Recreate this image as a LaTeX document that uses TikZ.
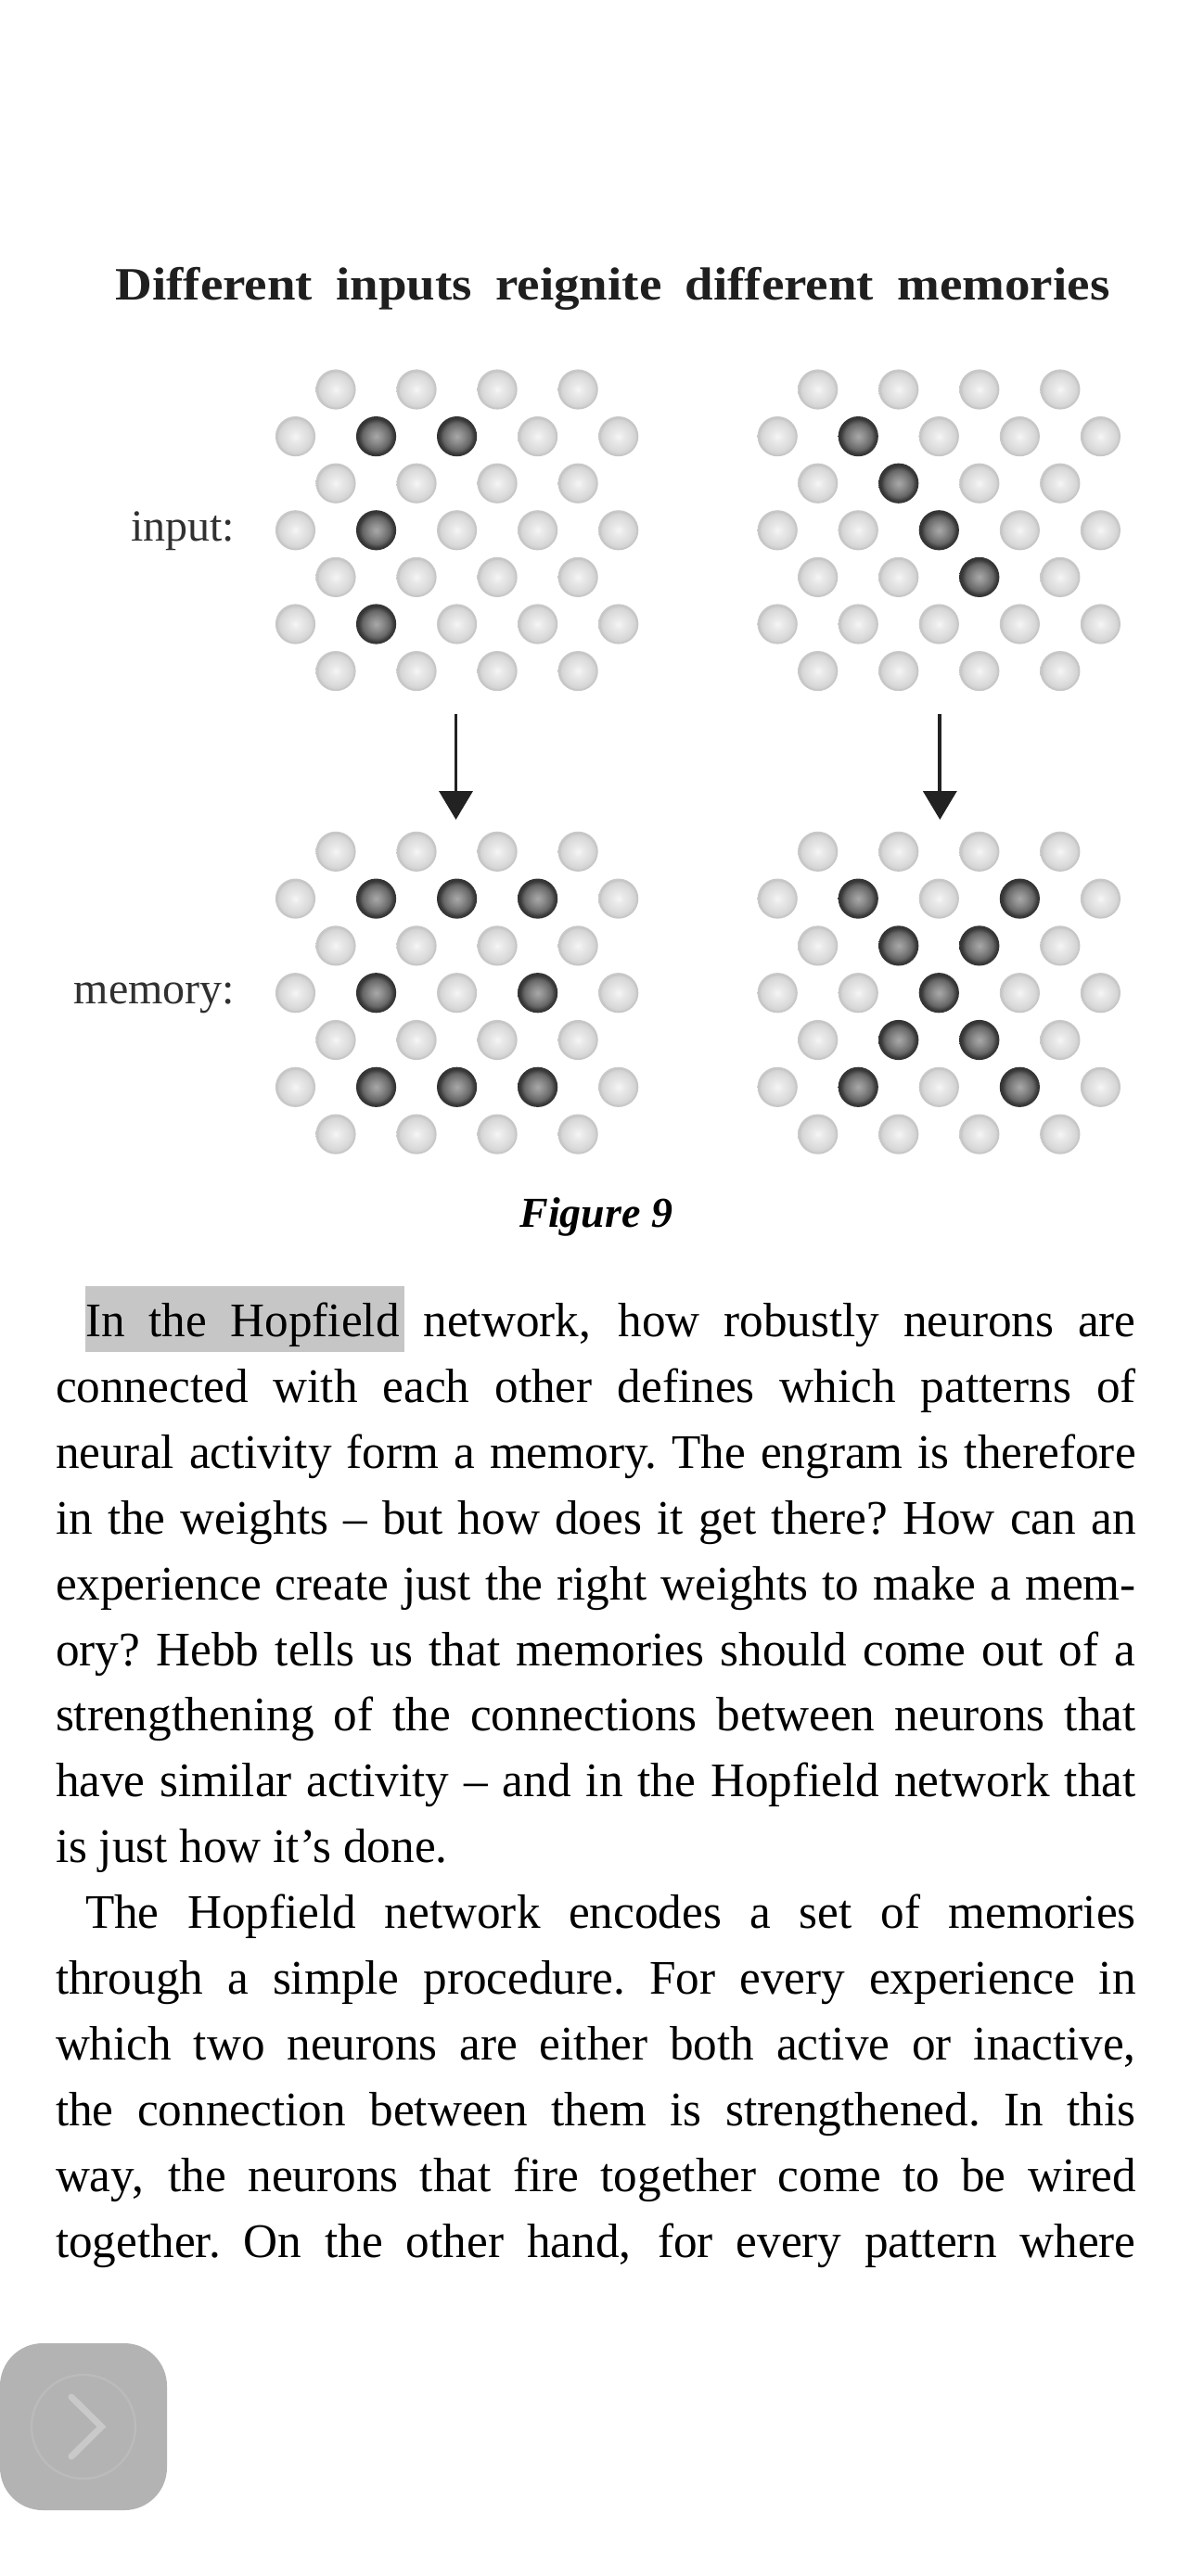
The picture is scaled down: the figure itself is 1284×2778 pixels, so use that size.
\documentclass[tikz,border=0pt]{standalone}
\usepackage{fontspec}
\usetikzlibrary{arrows.meta}
\setmainfont{Liberation Serif}
\newfontfamily\bodyfont[Ligatures=TeX,FakeStretch=0.985]{Liberation Serif}
\newfontfamily\titlefont[Ligatures=TeX,FakeStretch=1.1]{Liberation Serif Bold}
\definecolor{hl}{HTML}{C6C6C6}
\definecolor{btn}{HTML}{B3B3B3}
\definecolor{btnring}{HTML}{BBBBBB}
\definecolor{btnchev}{HTML}{C9C9C9}
\definecolor{ink}{HTML}{222222}
\definecolor{labelink}{HTML}{303030}
\pgfdeclareradialshading{lightshade}{\pgfpointorigin}{%
 rgb(0bp)=(.965,.965,.965); rgb(6bp)=(.92,.92,.92); rgb(17bp)=(.86,.86,.86); rgb(21bp)=(.83,.83,.83);
 rgb(23bp)=(.77,.77,.77); rgb(25bp)=(.79,.79,.79); rgb(50bp)=(.79,.79,.79)}
\pgfdeclareradialshading{darkshade}{\pgfpointorigin}{%
 rgb(0bp)=(.66,.66,.66); rgb(8bp)=(.55,.55,.55); rgb(17bp)=(.40,.40,.40); rgb(22bp)=(.22,.22,.22);
 rgb(25bp)=(.2,.2,.2); rgb(50bp)=(.2,.2,.2)}
\tikzset{
 ballbase/.style={circle,inner sep=0pt,minimum size=21.6pt},
 lightball/.style={ballbase,shading=lightshade},
 darkball/.style={ballbase,shading=darkshade},
 bodyline/.style={anchor=base west,inner sep=0pt,outer sep=0pt,text=black},
 sidelabel/.style={anchor=base east,inner sep=0pt,text=labelink,font=\fontsize{24pt}{28pt}\selectfont},
 flowarrow/.style={draw=ink,line width=1.9pt,-{Triangle[length=15.5pt,width=18pt]}},
}
% name, x offset, y top row, row step, dark list
\newcommand\ballgrid[5]{%
 \foreach \r in {1,...,7}{%
  \pgfmathtruncatemacro\isodd{mod(\r,2)}%
  \ifnum\isodd=1 \def\lastc{3}\def\xstart{362}\else \def\lastc{4}\def\xstart{318.5}\fi
  \foreach \c in {0,...,\lastc}{%
   \gdef\ballstyle{lightball}%
   \edef\thisid{\r-\c}%
   \foreach \d in {#5}{\edef\darkid{\d}\ifx\thisid\darkid\gdef\ballstyle{darkball}\fi}%
   \node[\ballstyle] (#1-\r-\c) at ({\xstart+#2+87.05*\c},{#3+#4*(\r-1)}) {};
  }%
 }%
}
\newcommand\jl[5]{%
 \node[bodyline] (#1) at (#2,#4) {\bodyfont\fontsize{26pt}{30pt}\selectfont\spaceskip=.2em plus 1.5em minus .12em\xspaceskip=\spaceskip\hbox to #3pt{#5}};
}
\begin{document}
\begin{tikzpicture}[x=.5pt,y=-.5pt]
\useasboundingbox (0,0) rectangle (1284,2778);
\fill[white] (0,0) rectangle (1284,2778);

\node[anchor=base west,inner sep=0pt,text=black!88] (title) at (124,323)
 {\titlefont\fontsize{25pt}{30pt}\selectfont\spaceskip=.2em plus 1em minus .1em\hbox to 536pt{Different inputs reignite different memories}};

\node[sidelabel] (lblinput) at (253.5,583.5) {input:};
\node[sidelabel] (lblmemory) at (253.5,1082.5) {memory:};

\ballgrid{ia}{0}{420}{50.6}{2-1,2-2,4-1,6-1}
\ballgrid{ib}{519.7}{420}{50.6}{2-1,3-1,4-2,5-2}
\ballgrid{ma}{0}{918.3}{50.8}{2-1,2-2,2-3,4-1,4-3,6-1,6-2,6-3}
\ballgrid{mb}{519.7}{918.3}{50.8}{2-1,2-3,3-1,3-2,4-2,5-1,5-2,6-1,6-3}

\coordinate (a1s) at (491.5,770);
\coordinate (a1e) at (491.5,884);
\coordinate (a2s) at (1013.3,770);
\coordinate (a2e) at (1013.3,884);
\draw[flowarrow] (a1s) -- (a1e);
\draw[flowarrow] (a2s) -- (a2e);

\node[anchor=base west,inner sep=0pt,text=black] (figcap) at (560,1323.5)
 {\fontsize{23pt}{28pt}\selectfont\bfseries\itshape Figure 9};

\fill[hl] (92,1387) rectangle (436,1458);

\jl{l01}{92}{566.3}{1441}{In the Hopfield network, how robustly neurons are}
\jl{l02}{60}{582.3}{1512}{connected with each other defines which patterns of}
\jl{l03}{60}{582.3}{1583}{neural activity form a memory. The engram is therefore}
\jl{l04}{60}{582.3}{1654}{in the weights – but how does it get there? How can an}
\jl{l05}{60}{582.3}{1725}{experience create just the right weights to make a mem-}
\jl{l06}{60}{582.3}{1796}{ory? Hebb tells us that memories should come out of a}
\jl{l07}{60}{582.3}{1866}{strengthening of the connections between neurons that}
\jl{l08}{60}{582.3}{1937}{have similar activity – and in the Hopfield network that}
\node[bodyline] (l09) at (60,2008) {\bodyfont\fontsize{26pt}{30pt}\selectfont is just how it’s done.};
\jl{l10}{92}{566.3}{2079}{The Hopfield network encodes a set of memories}
\jl{l11}{60}{582.3}{2150}{through a simple procedure. For every experience in}
\jl{l12}{60}{582.3}{2221}{which two neurons are either both active or inactive,}
\jl{l13}{60}{582.3}{2292}{the connection between them is strengthened. In this}
\jl{l14}{60}{582.3}{2363}{way, the neurons that fire together come to be wired}
\jl{l15}{60}{582.3}{2434}{together. On the other hand, for every pattern where}

\node[draw=none,fill=btn,rounded corners=23pt,minimum size=90pt,inner sep=0pt] (button) at (90,2617) {};
\node[draw=btnring,line width=1.2pt,circle,minimum size=56pt,inner sep=0pt] (ring) at (button.center) {};
\coordinate (ch1) at (77,2585);
\coordinate (ch2) at (109.5,2617);
\coordinate (ch3) at (77,2649);
\draw[btnchev,line width=3.5pt,line cap=round,line join=miter] (ch1) -- (ch2) -- (ch3);
\end{tikzpicture}
\end{document}
